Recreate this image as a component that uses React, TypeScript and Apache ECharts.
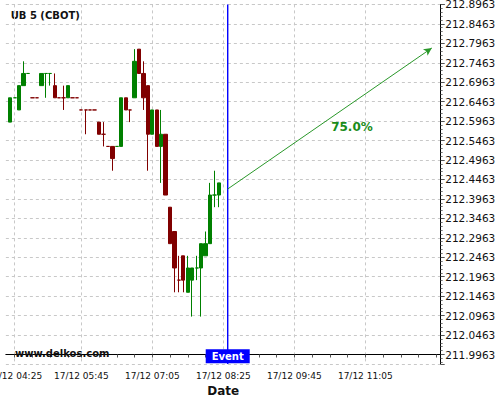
import React, { useEffect, useRef } from "react";
import * as echarts from "echarts";

// ---------- data ----------
const BASE = 211.9963; // first labelled price level on the y axis
const Y_STEP = 0.05;
const Y_MIN = 211.9719;
const Y_MAX = 212.8963;

// 5-minute categories: 17/12 04:15 ... (one 5-minute slot, 05:30, is absent)
const START_MINUTE = 4 * 60 + 15;
const MISSING_MINUTE = 5 * 60 + 30;
const CATEGORY_COUNT = 99;

// candles start at category 1 (04:20)
const opens = [
  212.59375, 212.65625, 212.625, 212.6875, 212.71875, 212.65625, 212.65625, 212.6875,
  212.71875, 212.71875, 212.6875, 212.65625, 212.65625, 212.65625, 212.65625, 212.65625,
  212.625, 212.625, 212.625, 212.625, 212.59375, 212.5625, 212.53125, 212.53125,
  212.53125, 212.53125, 212.65625, 212.625, 212.65625, 212.78125, 212.71875, 212.6875,
  212.5625, 212.625, 212.53125, 212.5625, 212.375, 212.3125, 212.1875, 212.25,
  212.15625, 212.1875, 212.21875, 212.21875, 212.25, 212.28125, 212.40625, 212.40625,
];
const closes = [
  212.65625, 212.65625, 212.6875, 212.71875, 212.71875, 212.65625, 212.65625, 212.71875,
  212.71875, 212.71875, 212.65625, 212.65625, 212.65625, 212.6875, 212.65625, 212.65625,
  212.625, 212.625, 212.625, 212.625, 212.5625, 212.5625, 212.53125, 212.5,
  212.53125, 212.65625, 212.625, 212.625, 212.75, 212.71875, 212.65625, 212.5625,
  212.625, 212.53125, 212.5625, 212.40625, 212.28125, 212.21875, 212.1875, 212.1875,
  212.21875, 212.21875, 212.21875, 212.28125, 212.28125, 212.40625, 212.40625, 212.4375,
];
const lows = [
  212.59375, 212.65625, 212.625, 212.6875, 212.71875, 212.65625, 212.65625, 212.6875,
  212.65625, 212.6875, 212.65625, 212.65625, 212.625, 212.65625, 212.65625, 212.65625,
  212.625, 212.5625, 212.625, 212.625, 212.5625, 212.53125, 212.53125, 212.46875,
  212.53125, 212.53125, 212.625, 212.59375, 212.65625, 212.71875, 212.625, 212.46875,
  212.5625, 212.53125, 212.4375, 212.40625, 212.28125, 212.15625, 212.15625, 212.15625,
  212.15625, 212.09375, 212.1875, 212.09375, 212.25, 212.28125, 212.375, 212.375,
];
const highs = [
  212.65625, 212.65625, 212.6875, 212.75, 212.71875, 212.65625, 212.65625, 212.71875,
  212.71875, 212.71875, 212.71875, 212.65625, 212.6875, 212.6875, 212.65625, 212.65625,
  212.625, 212.625, 212.625, 212.625, 212.59375, 212.59375, 212.53125, 212.53125,
  212.53125, 212.65625, 212.65625, 212.625, 212.78125, 212.78125, 212.75, 212.6875,
  212.625, 212.625, 212.625, 212.5625, 212.375, 212.3125, 212.25, 212.25,
  212.25, 212.21875, 212.25, 212.28125, 212.3125, 212.4375, 212.46875, 212.4375,
];
// candle colour as drawn (1 = falling / red, 0 = rising / green)
const bearish = [
  0, 0, 0, 0, 0, 1, 1, 0, 0, 0, 1, 1, 1, 0, 1, 1,
  1, 1, 1, 1, 1, 1, 1, 1, 0, 0, 1, 1, 0, 1, 1, 1,
  0, 1, 0, 1, 1, 1, 1, 1, 0, 0, 0, 0, 0, 0, 0, 0,
];

const EVENT_POS = 50.17; // just after 17/12 08:30 (in category steps)
const EVENT_LABEL_PRICE = 211.9917;
const ARROW_START = 212.4218;
const ARROW_END_POS = 96.25;
const ARROW_END = 212.7842;
const FORECAST_LABEL = "75.0%";
const FORECAST_LABEL_POS = 78;
const FORECAST_LABEL_PRICE = 212.5811;

const FONT = "DejaVu Sans";
const UP = "#008000";
const DOWN = "#800000";
const EVENT_BLUE = "#0000ff";
const ARROW_GREEN = "#2a982a";

function pad(n: number) {
  return n < 10 ? "0" + n : String(n);
}

const categoryMinutes: number[] = [];
{
  let m = START_MINUTE;
  while (categoryMinutes.length < CATEGORY_COUNT) {
    if (m !== MISSING_MINUTE) categoryMinutes.push(m);
    m += 5;
  }
}
const categories = categoryMinutes.map(
  (m) => "17/12 " + pad(Math.floor(m / 60) % 24) + ":" + pad(m % 60)
);

export default function App() {
  const ref = useRef<HTMLDivElement>(null);

  useEffect(() => {
    document.body.style.margin = "0";
    if (!ref.current) return;
    const chart = echarts.init(ref.current, undefined, { renderer: "svg" });

    const candleData: any[] = [["-", "-", "-", "-"]];
    for (let i = 0; i < opens.length; i++) {
      const col = bearish[i] ? DOWN : UP;
      candleData.push({
        value: [opens[i] - BASE, closes[i] - BASE, lows[i] - BASE, highs[i] - BASE],
        itemStyle: { color: col, color0: col, borderColor: col, borderColor0: col },
      });
    }

    const labelShown = (index: number) =>
      index <= 90 && categoryMinutes[index] % 80 === 25;
    const tickShown = (index: number) => categoryMinutes[index] % 20 === 5;

    const staticGraphics: any[] = [
      {
        type: "text",
        x: 10.7,
        y: 15.7,
        style: {
          text: "UB 5 (CBOT)",
          font: "bold 10px 'DejaVu Sans'",
          fill: "#111",
          textVerticalAlign: "middle",
        },
      },
      {
        type: "text",
        x: 15,
        y: 353.3,
        z: 10,
        style: {
          text: "www.delkos.com",
          font: "bold 10px 'DejaVu Sans'",
          fill: "#111",
          textVerticalAlign: "middle",
        },
      },
    ];

    chart.setOption({
      animation: false,
      textStyle: { fontFamily: FONT },
      grid: {
        left: 5.86,
        right: 59.3,
        top: 4.4,
        bottom: 36,
        containLabel: false,
        outerBoundsMode: "none",
      },
      graphic: staticGraphics,
      xAxis: {
        type: "category",
        data: categories,
        boundaryGap: false,
        name: "Date",
        nameLocation: "middle",
        nameGap: 17.5,
        nameTextStyle: { fontFamily: FONT, fontSize: 12, fontWeight: "bold", color: "#111" },
        axisLine: { lineStyle: { color: "#000", width: 1 } },
        axisTick: { interval: (i: number) => tickShown(i), length: 3, lineStyle: { color: "#555" } },
        axisLabel: {
          interval: (i: number) => labelShown(i),
          fontFamily: FONT,
          fontSize: 9,
          color: "#111",
          margin: 7.5,
          hideOverlap: false,
        },
        splitLine: {
          show: true,
          interval: (i: number) => labelShown(i),
          lineStyle: { color: "#c8c8c8", type: [3, 3], width: 1 },
        },
      },
      yAxis: {
        type: "value",
        position: "right",
        min: Y_MIN - BASE,
        max: Y_MAX - BASE,
        splitNumber: 18,
        minInterval: Y_STEP,
        maxInterval: Y_STEP,
        axisLine: { show: true, lineStyle: { color: "#000", width: 1 } },
        axisTick: { show: true, length: 4, lineStyle: { color: "#555" } },
        minorTick: { show: true, splitNumber: 5, length: 2, lineStyle: { color: "#777" } },
        axisLabel: {
          showMinLabel: false,
          fontFamily: FONT,
          fontSize: 10.5,
          color: "#111",
          margin: 4.5,
          formatter: (v: number) => (BASE + v).toFixed(4),
        },
        splitLine: { show: true, lineStyle: { color: "#c8c8c8", type: [3, 3], width: 1 } },
      },
      series: [
        {
          type: "candlestick",
          data: candleData,
          barWidth: 3.8,
          itemStyle: {
            color: UP,
            color0: DOWN,
            borderColor: UP,
            borderColor0: DOWN,
            borderWidth: 1,
          },
          markLine: {
            silent: true,
            symbol: ["none", "none"],
            label: { show: false },
            data: [
              [
                {
                  coord: [EVENT_POS, ARROW_START - BASE],
                  symbol: "none",
                  lineStyle: { color: ARROW_GREEN, width: 1, type: "solid" },
                },
                {
                  coord: [ARROW_END_POS, ARROW_END - BASE],
                  symbol: "arrow",
                  symbolSize: [6, 8],
                },
              ],
            ],
          },
          markPoint: {
            silent: true,
            data: [
              {
                coord: [EVENT_POS, EVENT_LABEL_PRICE - BASE],
                symbol: "rect",
                symbolSize: [44, 14],
                itemStyle: { color: EVENT_BLUE },
                label: {
                  show: true,
                  position: "inside",
                  formatter: "Event",
                  color: "#fff",
                  fontFamily: FONT,
                  fontSize: 10,
                  fontWeight: "bold",
                },
              },
              {
                coord: [FORECAST_LABEL_POS, FORECAST_LABEL_PRICE - BASE],
                symbol: "circle",
                symbolSize: 0,
                itemStyle: { color: "transparent" },
                label: {
                  show: true,
                  position: "inside",
                  formatter: FORECAST_LABEL,
                  color: "#1a8c1a",
                  fontFamily: FONT,
                  fontSize: 12,
                  fontWeight: "bold",
                },
              },
            ],
          },
        },
      ],
    });

    // vertical event line, placed through the chart's own scales
    const top = chart.convertToPixel({ gridIndex: 0 }, [EVENT_POS, Y_MAX - BASE]) as number[];
    const bottom = chart.convertToPixel({ gridIndex: 0 }, [EVENT_POS, Y_MIN - BASE]) as number[];
    if (top && bottom) {
      const x = top[0];
      chart.setOption({
        graphic: [
          ...staticGraphics,
          {
            type: "rect",
            z: 5,
            silent: true,
            shape: { x: x - 0.7, y: top[1], width: 1.4, height: bottom[1] - top[1] },
            style: { fill: EVENT_BLUE },
          },
        ],
      });
    }

    return () => chart.dispose();
  }, []);

  return <div ref={ref} style={{ width: 500, height: 400 }} />;
}
